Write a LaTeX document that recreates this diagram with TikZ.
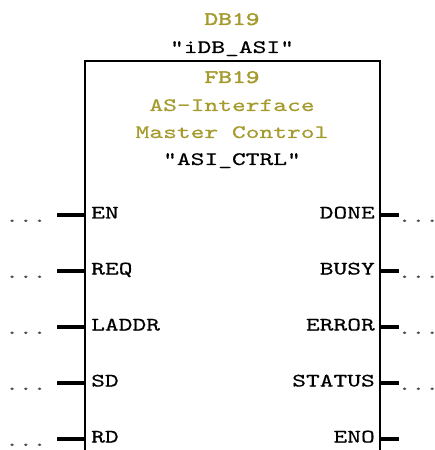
\documentclass[tikz,border=0pt]{standalone}
\usepackage{fontspec}
\newfontfamily\plcfont{lmmono10-regular}[Extension=.otf,FakeStretch=1.38,FakeBold=0.5]
\newfontfamily\plcbold{lmmono10-regular}[Extension=.otf,FakeStretch=1.38,FakeBold=2]
\definecolor{olivetxt}{RGB}{165,155,45}
\tikzset{
  txt/.style={inner sep=0pt, font=\plcfont\fontsize{19bp}{19bp}\selectfont, text=black},
  titletxt/.style={txt, text=olivetxt, anchor=base},
  boldtitle/.style={titletxt, font=\plcbold\fontsize{19bp}{19bp}\selectfont},
  inlbl/.style={txt, anchor=base west},
  outlbl/.style={txt, anchor=base east},
  dots/.style={txt, anchor=base west, text=black!70},
  boxline/.style={draw=black, line width=1.5bp},
  pinline/.style={draw=black, line width=3.5bp}
}
\begin{document}
\begin{tikzpicture}[x=1bp,y=-1bp]
\useasboundingbox (0,0) rectangle (435,450);
% title texts
\node[boldtitle] (db) at (232,25) {DB19};
\node[titletxt, text=black] (idb) at (232,53) {"iDB\_ASI"};
\node[boldtitle] (fb) at (232,83) {FB19};
\node[titletxt] (t1) at (232,111) {AS-Interface};
\node[titletxt] (t2) at (232,138) {Master Control};
\node[titletxt, text=black] (t3) at (232,165) {"ASI\_CTRL"};
% box
\coordinate (bl) at (85,450);
\coordinate (tl) at (85,61);
\coordinate (tr) at (380,61);
\coordinate (br) at (380,450);
\draw[boxline] (bl) -- (tl) -- (tr) -- (br);
% inputs
\foreach \n/\yy/\lab in {1/215/EN, 2/271/REQ, 3/327/LADDR, 4/383/SD, 5/439/RD}{
  \coordinate (ie\n) at (57,\yy);
  \coordinate (ib\n) at (85,\yy);
  \draw[pinline] (ie\n) -- (ib\n);
  \node[inlbl] (in\n) at (91,\yy+3.5) {\lab};
  \node[dots] (ind\n) at (5,\yy+7) {...};
}
% outputs
\foreach \n/\yy/\lab in {1/215/DONE, 2/271/BUSY, 3/327/ERROR, 4/383/STATUS, 5/439/ENO}{
  \coordinate (ob\n) at (380,\yy);
  \coordinate (oe\n) at (399,\yy);
  \draw[pinline] (ob\n) -- (oe\n);
  \node[outlbl] (out\n) at (375,\yy+3.5) {\lab};
}
\foreach \n/\yy in {1/215, 2/271, 3/327, 4/383}{
  \node[dots] (outd\n) at (397.5,\yy+7) {...};
}
\end{tikzpicture}
\end{document}
